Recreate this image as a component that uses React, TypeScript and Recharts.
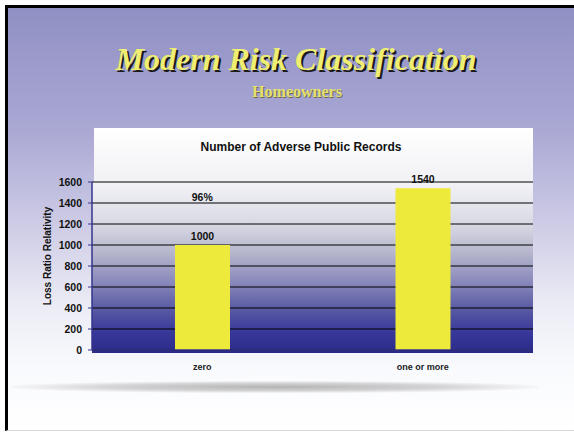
import { Bar, BarChart, CartesianGrid, LabelList, ReferenceDot, XAxis, YAxis } from 'recharts';

const categories = ['zero', 'one or more'];
const relativity = [1000, 1540];
const yTicks = [0, 200, 400, 600, 800, 1000, 1200, 1400, 1600];
const notes = [{ category: 'zero', value: 1450, text: '96%' }];

const data = categories.map((name, i) => ({ name, relativity: relativity[i] }));

const sans = '"Liberation Sans", Arial, sans-serif';
const serif = '"Liberation Serif", "Times New Roman", serif';

export default function App() {
  return (
    <div
      style={{
        position: 'absolute',
        left: 0,
        top: 0,
        width: 574,
        height: 433,
        overflow: 'hidden',
        background: '#fff',
      }}
    >
      {/* slide */}
      <div
        style={{
          position: 'absolute',
          left: 5,
          top: 5,
          width: 569,
          height: 426,
          borderTop: '3px solid #000',
          borderLeft: '3px solid #000',
          borderBottom: '1px solid #d8d8dc',
          boxSizing: 'border-box',
          background:
            'linear-gradient(to bottom, #9090c4 0%, #a9a7d3 28%, #c8c6e3 48%, #ebebf5 70%, #f9fafd 85%, #ffffff 100%)',
        }}
      />
      <div
        style={{
          position: 'absolute',
          left: 0,
          width: 574,
          top: 39,
          textAlign: 'center',
          paddingLeft: 18,
          boxSizing: 'border-box',
          fontFamily: serif,
          fontStyle: 'italic',
          fontWeight: 'bold',
          fontSize: 32,
          color: '#eeee72',
          textShadow: '2px 2px 0 #1a1a1a',
          lineHeight: '40px',
        }}
      >
        Modern Risk Classification
      </div>
      <div
        style={{
          position: 'absolute',
          left: 0,
          width: 574,
          top: 82,
          textAlign: 'center',
          paddingLeft: 20,
          boxSizing: 'border-box',
          fontFamily: serif,
          fontWeight: 'bold',
          fontSize: 16,
          color: '#e6e070',
          textShadow: '1px 1px 0 #6a6a50',
          lineHeight: '20px',
        }}
      >
        Homeowners
      </div>
      {/* chart frame and plot background */}
      <div
        style={{
          position: 'absolute',
          left: 94,
          top: 128,
          width: 439,
          height: 54,
          background: 'linear-gradient(to bottom, #ffffff, #f1f1f5)',
        }}
      />
      <div
        style={{
          position: 'absolute',
          left: 92,
          top: 182,
          width: 441,
          height: 171,
          background:
            'linear-gradient(to bottom, #f3f3f7 0%, #d8d8e4 25%, #b4b4cc 42%, #8a8abc 58%, #5a5aa4 74%, #38389a 88%, #2a2a88 100%)',
        }}
      />
      <div
        style={{
          position: 'absolute',
          left: 12,
          top: 381,
          width: 526,
          height: 12,
          background: 'radial-gradient(ellipse at center, #b4b4b4 0%, #d4d4d6 45%, rgba(240,240,244,0) 75%)',
        }}
      />
      <div
        style={{
          position: 'absolute',
          left: 94,
          width: 439,
          top: 140,
          paddingRight: 25,
          boxSizing: 'border-box',
          textAlign: 'center',
          fontFamily: sans,
          fontWeight: 'bold',
          fontSize: 12,
          color: '#111',
        }}
      >
        Number of Adverse Public Records
      </div>
      <div style={{ position: 'absolute', left: 0, top: 0 }}>
        <BarChart
          width={574}
          height={433}
          data={data}
          margin={{ top: 182, right: 41, bottom: 53, left: 0 }}
          barCategoryGap="25%"
        >
          <CartesianGrid vertical={false} stroke="#000" strokeWidth={1} />
          <XAxis
            dataKey="name"
            tickLine={false}
            axisLine={{ stroke: '#34348c', strokeWidth: 1.5 }}
            tick={{ fill: '#222', fontSize: 9, fontWeight: 'bold', fontFamily: sans }}
            tickMargin={8}
            height={30}
          />
          <YAxis
            domain={[0, 1600]}
            ticks={yTicks}
            width={92}
            interval={0}
            axisLine={{ stroke: '#34348c', strokeWidth: 1.5 }}
            tickLine={{ stroke: '#34348c' }}
            tickSize={4}
            tickMargin={6}
            tick={{ fill: '#111', fontSize: 10.5, fontWeight: 'bold', fontFamily: sans }}
            label={{
              value: 'Loss Ratio Relativity',
              angle: -90,
              position: 'insideLeft',
              offset: 47,
              dy: -10,
              style: { textAnchor: 'middle', fill: '#111', fontSize: 10, fontWeight: 'bold', fontFamily: sans },
            }}
          />
          <Bar dataKey="relativity" fill="#eeea3c" barSize={55} isAnimationActive={false}>
            <LabelList
              dataKey="relativity"
              position="top"
              offset={5}
              style={{ fill: '#111', fontSize: 10.5, fontWeight: 'bold', fontFamily: sans }}
            />
          </Bar>
          {notes.map((n) => (
            <ReferenceDot
              key={n.text}
              x={n.category}
              y={n.value}
              r={0}
              stroke="none"
              fill="none"
              label={{
                value: n.text,
                position: 'center',
                style: { fill: '#111', fontSize: 10.5, fontWeight: 'bold', fontFamily: sans },
              }}
            />
          ))}
        </BarChart>
      </div>
    </div>
  );
}
